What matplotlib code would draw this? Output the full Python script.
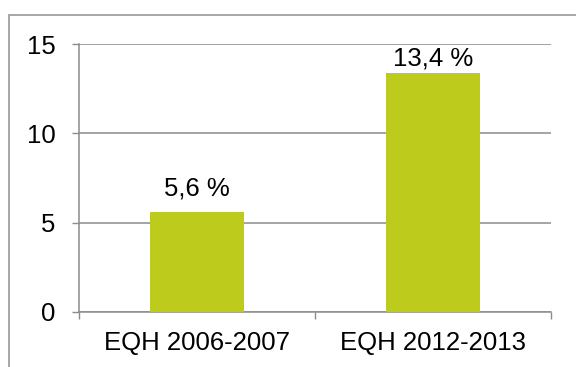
import numpy as np
import matplotlib.pyplot as plt
from matplotlib.patches import Rectangle

plt.rcParams['font.family'] = ['Liberation Sans', 'DejaVu Sans']

categorias = ['EQH 2006-2007', 'EQH 2012-2013']
valores = [5.6, 13.4]
etiquetas = ['5,6 %', '13,4 %']
yticks = [0, 5, 10, 15]

gris = '#8c8c8c'
verde = '#bccb1c'
fs = 18.5

fig = plt.figure(figsize=(5.76, 3.67), dpi=100)
ax = fig.add_axes([0.1372, 0.1499, 0.8194, 0.7302])

x = np.arange(len(categorias))
ax.bar(x, valores, width=0.4, color=verde, zorder=3)

# etiquetas de datos
pads = [8.5, 1.5]
for xi, v, t, p in zip(x, valores, etiquetas, pads):
    ax.annotate(t, (xi, v), xytext=(0, p), textcoords='offset points',
                ha='center', va='bottom', fontsize=fs)

ax.set_xlim(-0.5, len(categorias) - 0.5)
ax.set_ylim(0, 15)
ax.set_yticks(yticks)
ax.set_yticklabels([str(t) for t in yticks], fontsize=fs)
ax.set_xticks(x)
ax.set_xticklabels(categorias, fontsize=fs)
ax.set_xticks(np.arange(len(categorias) + 1) - 0.5, minor=True)
ax.tick_params(axis='x', which='major', length=0, pad=14)
ax.tick_params(axis='x', which='minor', length=5, width=1, color=gris)
ax.tick_params(axis='y', length=5, width=1, color=gris, pad=12)

ax.yaxis.grid(True, color=gris, linewidth=1.1, zorder=0)
for s in ['top', 'right']:
    ax.spines[s].set_visible(False)
for s in ['left', 'bottom']:
    ax.spines[s].set_color(gris)
    ax.spines[s].set_linewidth(1.1)

# marco exterior
fig.patches.append(Rectangle((9 / 576, -0.1), 1.2, 1 - 15 / 367 + 0.1,
                             transform=fig.transFigure, fill=False,
                             edgecolor='#a0a0a0', linewidth=1.3))

fig.savefig('out.png', dpi=100)
